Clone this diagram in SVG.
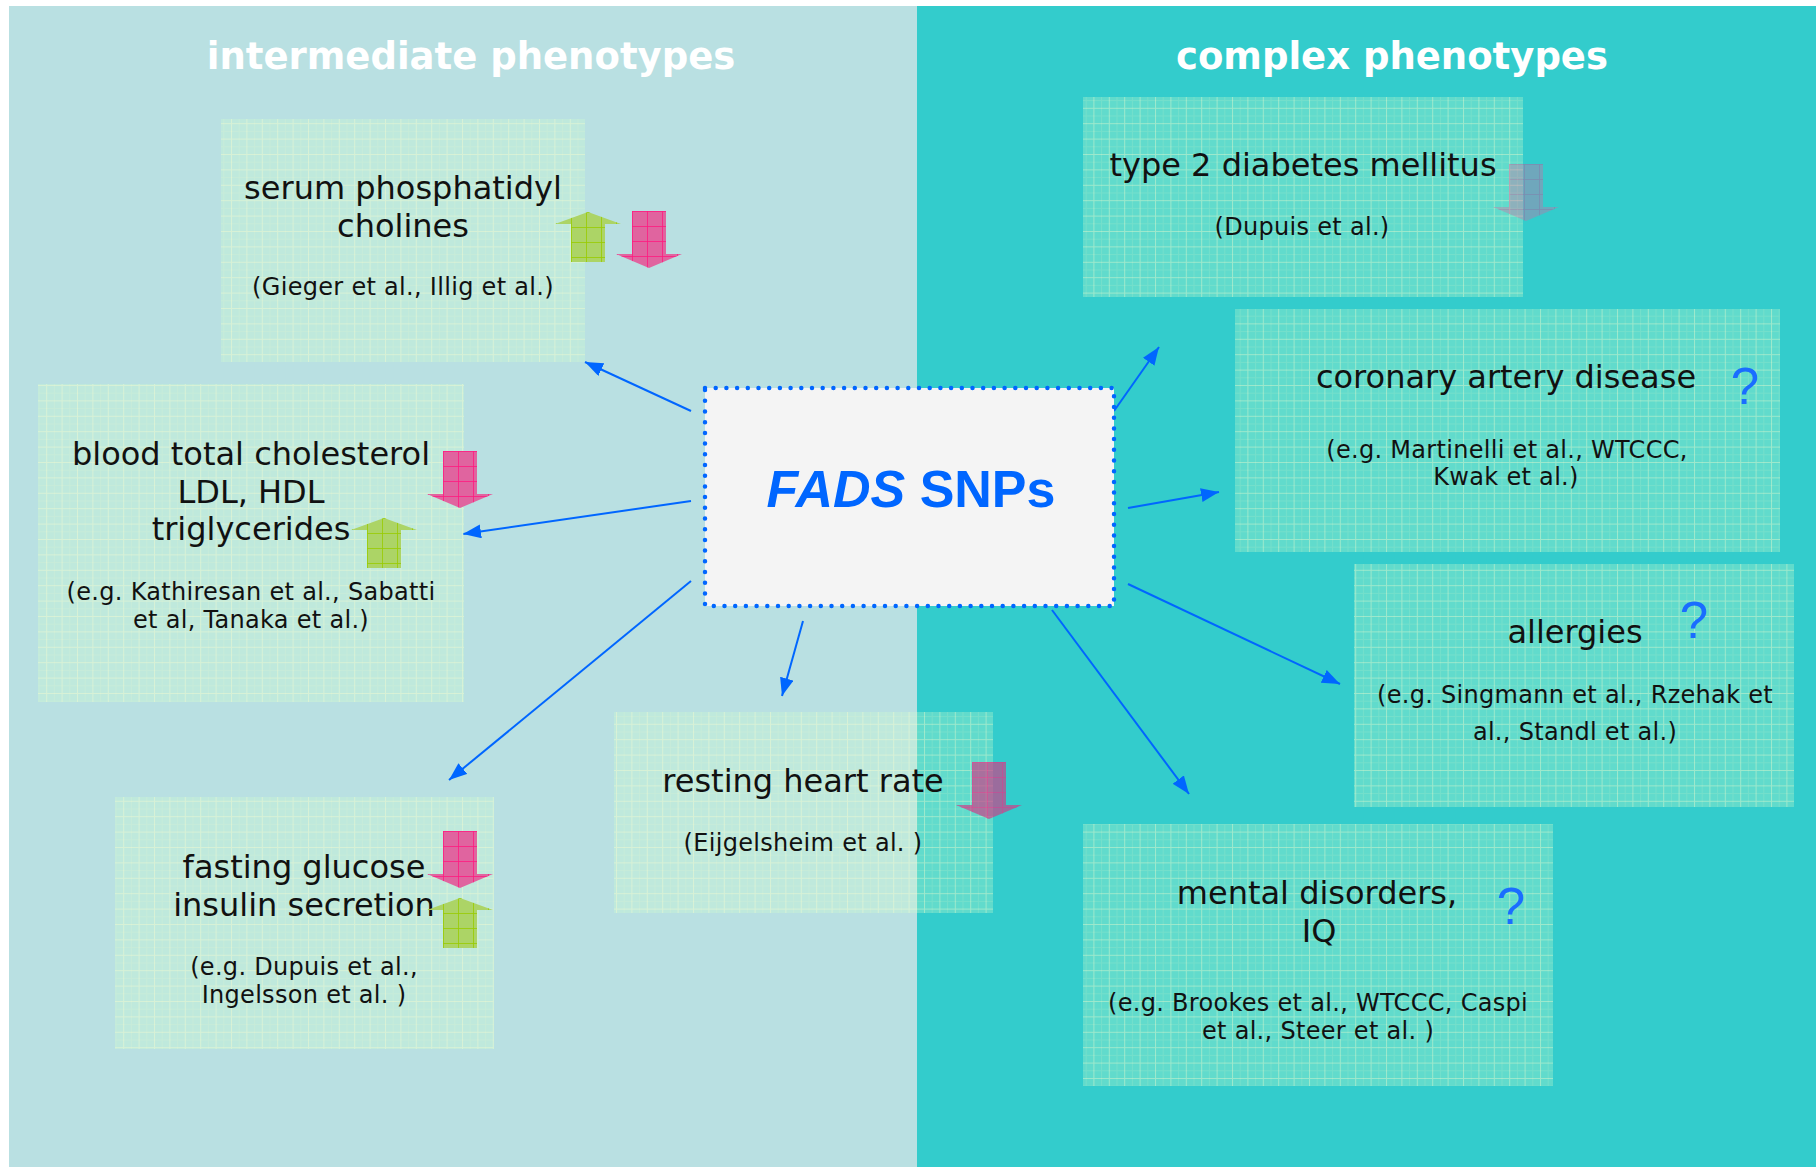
<svg xmlns="http://www.w3.org/2000/svg" width="1816" height="1167" viewBox="0 0 1816 1167">
<style>
.title{font-family:"DejaVu Sans",Verdana,sans-serif;font-weight:bold;font-size:37px;fill:#ffffff;text-anchor:middle}
.main{font-family:"DejaVu Sans",Verdana,sans-serif;font-size:32px;fill:#111;text-anchor:middle}
.cite{font-family:"DejaVu Sans",Verdana,sans-serif;font-size:24px;letter-spacing:0.3px;fill:#111;text-anchor:middle}
.q{font-family:"Liberation Sans",Arial,sans-serif;font-size:51px;fill:#1a6dff;text-anchor:middle}
.boxbg{fill:#ccffcc;fill-opacity:0.3}
.boxgrid{fill:url(#boxGrid)}
.conn{stroke:#0066ff;stroke-width:2;fill:none;marker-end:url(#ah)}
.pink{fill:#e0649f}
.pinkg{fill:url(#pinkGrid)}
.green{fill:#acd466}
.greeng{fill:url(#greenGrid)}
</style>
<defs>
<pattern id="boxGrid" patternUnits="userSpaceOnUse" width="15.4" height="15.4">
<path d="M0.5,0 V15.4 M0,0.5 H15.4" stroke="#ffffcc" stroke-opacity="0.38" stroke-width="1"/>
<path d="M8.2,0 V15.4 M0,8.2 H15.4" stroke="#ffffcc" stroke-opacity="0.12" stroke-width="1"/>
</pattern>
<pattern id="pinkGrid" patternUnits="userSpaceOnUse" width="15" height="15">
<path d="M0.5,0 V15 M0,0.5 H15" stroke="#ff1a80" stroke-opacity="0.8" stroke-width="1"/>
</pattern>
<pattern id="greenGrid" patternUnits="userSpaceOnUse" width="15" height="15">
<path d="M0.5,0 V15 M0,0.5 H15" stroke="#99cc00" stroke-opacity="0.8" stroke-width="1"/>
</pattern>
<marker id="ah" markerUnits="userSpaceOnUse" markerWidth="20" markerHeight="16" refX="18" refY="7" orient="auto">
<path d="M0,0 L18,7 L0,14 Z" fill="#0066ff"/>
</marker>
<path id="down" d="M0,0 H34 V43 H50 L17,57 L-16,43 H0 Z"/>
<path id="up" d="M17,0 L50,12 H34 V50 H0 V12 H-16 Z"/>
</defs>

<rect x="0" y="0" width="1816" height="1167" fill="#ffffff"/>
<rect x="9" y="6" width="908" height="1161" fill="#b9e0e2"/>
<rect x="917" y="6" width="899" height="1161" fill="#33cccc"/>

<text class="title" x="471" y="69">intermediate phenotypes</text>
<text class="title" x="1392" y="69">complex phenotypes</text>

<g id="connectors">
<line class="conn" x1="691" y1="411" x2="585" y2="362"/>
<line class="conn" x1="691" y1="501" x2="463" y2="534"/>
<line class="conn" x1="691" y1="581" x2="449" y2="780"/>
<line class="conn" x1="803" y1="621" x2="782" y2="696"/>
<line class="conn" x1="1114" y1="411" x2="1159" y2="347"/>
<line class="conn" x1="1128" y1="508" x2="1219" y2="492"/>
<line class="conn" x1="1128" y1="584" x2="1340" y2="684"/>
<line class="conn" x1="1052" y1="610" x2="1189" y2="794"/>
</g>

<g id="serum">
<rect class="boxbg" x="221" y="119" width="364" height="243"/>
<rect class="boxgrid" x="221" y="119" width="364" height="243"/>
<text class="main" x="403" y="199">serum phosphatidyl</text>
<text class="main" x="403" y="237">cholines</text>
<text class="cite" x="403" y="295">(Gieger et al., Illig et al.)</text>
<g transform="translate(571,212)"><use href="#up" class="green"/><use href="#up" class="greeng"/></g>
<g transform="translate(632,211)"><use href="#down" class="pink"/><use href="#down" class="pinkg"/></g>
</g>

<g id="cholesterol">
<rect class="boxbg" x="38" y="384" width="426" height="318"/>
<rect class="boxgrid" x="38" y="384" width="426" height="318"/>
<text class="main" x="251" y="465">blood total cholesterol</text>
<text class="main" x="251" y="503">LDL, HDL</text>
<text class="main" x="251" y="540">triglycerides</text>
<text class="cite" x="251" y="600">(e.g. Kathiresan et al., Sabatti</text>
<text class="cite" x="251" y="628">et al, Tanaka et al.)</text>
<g transform="translate(443,451)"><use href="#down" class="pink"/><use href="#down" class="pinkg"/></g>
<g transform="translate(367,518)"><use href="#up" class="green"/><use href="#up" class="greeng"/></g>
</g>

<g id="fasting">
<rect class="boxbg" x="115" y="797" width="379" height="252"/>
<rect class="boxgrid" x="115" y="797" width="379" height="252"/>
<text class="main" x="304" y="878">fasting glucose</text>
<text class="main" x="304" y="916">insulin secretion</text>
<text class="cite" x="304" y="975">(e.g. Dupuis et al.,</text>
<text class="cite" x="304" y="1003">Ingelsson et al. )</text>
<g transform="translate(443,831)"><use href="#down" class="pink"/><use href="#down" class="pinkg"/></g>
<g transform="translate(443,898)"><use href="#up" class="green"/><use href="#up" class="greeng"/></g>
</g>

<g id="heartrate">
<rect class="boxbg" x="614" y="712" width="379" height="201"/>
<rect class="boxgrid" x="614" y="712" width="379" height="201"/>
<text class="main" x="803" y="792">resting heart rate</text>
<text class="cite" x="803" y="851">(Eijgelsheim et al. )</text>
<g transform="translate(972,762)" opacity="0.7"><use href="#down" fill="#c8448a"/><use href="#down" class="pinkg"/></g>
</g>

<g id="fads">
<rect x="705" y="388" width="409" height="218" fill="#f4f4f4" stroke="#0066ff" stroke-width="4.5" stroke-dasharray="0 10.7" stroke-linecap="round"/>
<text x="911" y="507" font-family="Liberation Sans, Arial, sans-serif" font-weight="bold" font-size="52" fill="#0066ff" text-anchor="middle"><tspan font-style="italic">FADS</tspan> SNPs</text>
</g>

<g id="diabetes">
<rect class="boxbg" x="1083" y="97" width="440" height="200"/>
<rect class="boxgrid" x="1083" y="97" width="440" height="200"/>
<text class="main" x="1303" y="176">type 2 diabetes mellitus</text>
<text class="cite" x="1302" y="235">(Dupuis et al.)</text>
<g transform="translate(1509,164)" opacity="0.35"><use href="#down" class="pink"/><use href="#down" class="pinkg"/></g>
</g>

<g id="coronary">
<rect class="boxbg" x="1235" y="309" width="545" height="243"/>
<rect class="boxgrid" x="1235" y="309" width="545" height="243"/>
<text class="main" x="1506" y="388">coronary artery disease</text>
<text class="q" x="1745" y="404">?</text>
<text class="cite" x="1507" y="458">(e.g. Martinelli et al., WTCCC,</text>
<text class="cite" x="1506" y="485">Kwak et al.)</text>
</g>

<g id="allergies">
<rect class="boxbg" x="1354" y="564" width="440" height="243"/>
<rect class="boxgrid" x="1354" y="564" width="440" height="243"/>
<text class="main" x="1575" y="643">allergies</text>
<text class="q" x="1694" y="638">?</text>
<text class="cite" x="1575" y="703">(e.g. Singmann et al., Rzehak et</text>
<text class="cite" x="1575" y="740">al., Standl et al.)</text>
</g>

<g id="mental">
<rect class="boxbg" x="1083" y="824" width="470" height="262"/>
<rect class="boxgrid" x="1083" y="824" width="470" height="262"/>
<text class="main" x="1317" y="904">mental disorders,</text>
<text class="main" x="1319" y="942">IQ</text>
<text class="q" x="1511" y="924">?</text>
<text class="cite" x="1318" y="1011">(e.g. Brookes et al., WTCCC, Caspi</text>
<text class="cite" x="1318" y="1039">et al., Steer et al. )</text>
</g>
</svg>
